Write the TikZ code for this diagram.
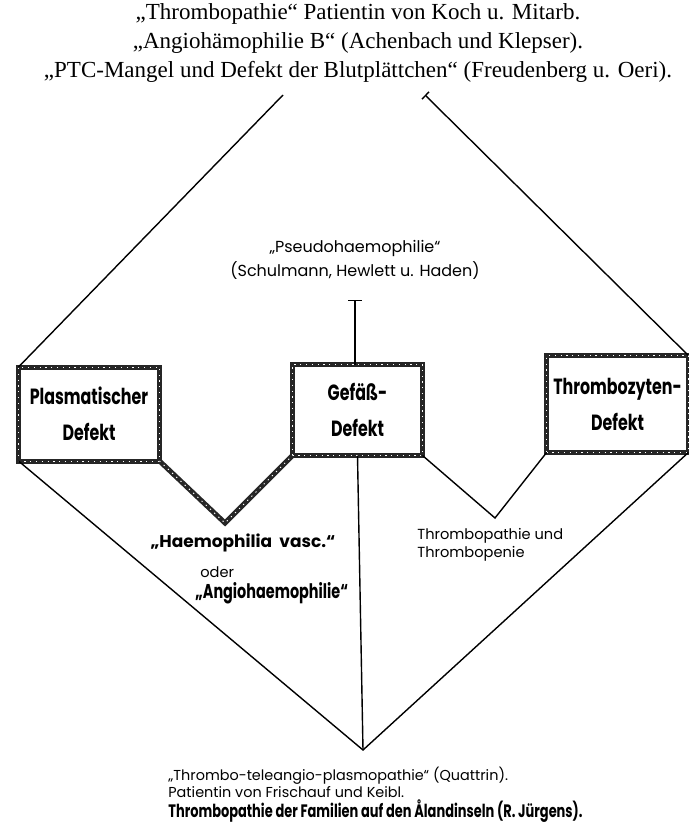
\documentclass[tikz,border=0pt]{standalone}
\usepackage{fontspec}
\setmainfont{Liberation Serif}
\newfontfamily\futura{Poppins}
\newfontfamily\futuracond[FakeStretch=0.72]{Poppins}
\usetikzlibrary{positioning, arrows.meta}

\tikzset{
  rough/.style={postaction={draw=white, line width=0.5pt, dash pattern=on 0.6pt off 2.3pt}},
  defect/.style={draw=black!85, line width=2.5pt, outer sep=0pt, align=center, rough,
    font=\futuracond\bfseries\fontsize{11}{18}\selectfont},
  thickline/.style={draw=black!85, line width=2.5pt, line join=miter, rough},
  thinline/.style={draw, line width=0.7pt},
  note/.style={font=\futura\fontsize{7.3}{9}\selectfont, inner sep=0pt},
  boldnote/.style={font=\futura\bfseries\fontsize{8.5}{10}\selectfont, inner sep=0pt},
  condnote/.style={font=\futuracond\bfseries\fontsize{10}{10}\selectfont, inner sep=0pt},
}

\begin{document}
\begin{tikzpicture}[x=0.5pt, y=-0.5pt]
\useasboundingbox (0,0) rectangle (689,824);

% Defekt boxes
\node[defect, minimum width=70.5pt, minimum height=47pt] (plasm) at (89,414) {Plasmatischer\\Defekt};
\node[defect, minimum width=65pt, minimum height=45.5pt] (gef) at (357.5,410) {Gefäß-\\Defekt};
\node[defect, minimum width=70pt, minimum height=48.5pt] (thromb) at (617.5,404) {Thrombozyten-\\Defekt};

% literature on top
\node[font=\fontsize{11.5}{14.5}\selectfont, align=center, inner sep=0pt] (refs) at (358,43)
  {„Thrombopathie“ Patientin von Koch u. Mitarb.\\
   „Angiohämophilie B“ (Achenbach und Klepser).\\
   „PTC-Mangel und Defekt der Blutplättchen“ (Freudenberg u. Oeri).};
\coordinate (topL) at (283,95);
\coordinate (topR) at (425,95);

% Pseudohaemophilie
\node[note, align=center, font=\futura\fontsize{8}{12}\selectfont] (pseudo) at (355,260)
  {„Pseudohaemophilie“\\(Schulmann, Hewlett u. Haden)};
\coordinate (ptop) at (355,300);

% between the boxes
\coordinate (vL) at (225,523);
\coordinate (vR) at (495,518);
\node[boldnote] (hvasc) at (243,543) {„Haemophilia\ \ vasc.“};
\node[note, anchor=west] (oder) at (200,572) {oder};
\node[condnote, anchor=west] (angio) at (195,593) {„Angiohaemophilie“};
\node[note, align=left, anchor=west] (tpathie) at (417,545) {Thrombopathie und\\Thrombopenie};

% bottom
\coordinate (apex) at (363,750);
\node[note, align=left, anchor=north west, font=\futura\fontsize{7.2}{8.3}\selectfont] (quattrin) at (168,767)
  {„Thrombo-teleangio-plasmopathie“ (Quattrin).\\
   Patientin von Frischauf und Keibl.\\
   {\futuracond\bfseries\fontsize{9}{8.3}\selectfont Thrombopathie der Familien auf den Ålandinseln (R. Jürgens).}};

\draw[thinline] (topL) -- (plasm.north west);
\draw[thinline, {Bar[width=5pt]}-] (topR) -- (thromb.north east);
\draw[thinline, {Bar[width=7pt]}-] (ptop) -- (ptop |- gef.north);
\draw[thickline] (plasm.south east) -- (vL) -- (gef.south west);
\draw[thinline] (gef.south east) -- (vR) -- (thromb.south west);
\draw[thinline] (plasm.south west) -- (apex) -- (thromb.south east);
\draw[thinline] (gef.south) -- (apex);
\end{tikzpicture}
\end{document}
